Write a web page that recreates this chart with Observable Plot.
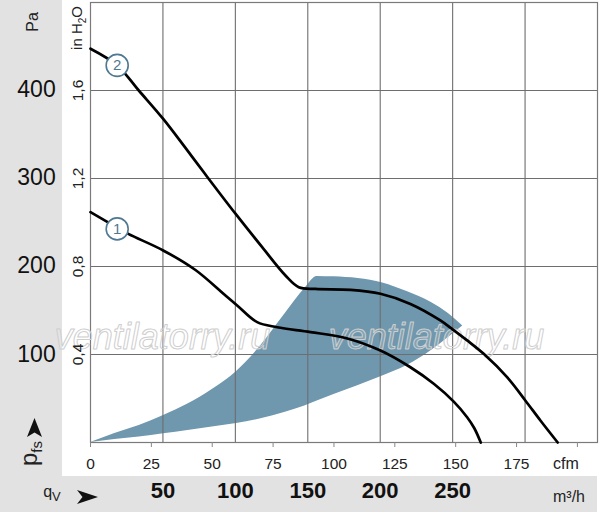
<!DOCTYPE html>
<html>
<head>
<meta charset="utf-8">
<script src="https://cdn.jsdelivr.net/npm/d3@7"></script>
<script src="https://cdn.jsdelivr.net/npm/@observablehq/plot@0.6"></script>
<style>
  html, body { margin: 0; padding: 0; background: white; }
  #wrap { position: relative; width: 600px; height: 516px; overflow: hidden; }
  #bg { position: absolute; left: 0; top: 0; width: 597px; height: 512px; background: #e2e2e2; }
  #plotbg { position: absolute; left: 62px; top: 0; width: 535px; height: 476px; background: white; }
  #chart { position: absolute; left: 0; top: 0; }
</style>
</head>
<body>
<div id="wrap">
  <div id="bg"></div>
  <div id="plotbg"></div>
  <div id="chart"></div>
</div>
<script>
// Conversion factors (as used in the drawing)
const CFM_PER_M3H = 0.595;
const PA_PER_INH2O = 249.09;

// Curve 1 (lower characteristic): flow in cfm, static pressure in inH2O
const curve1Cfm   = [0, 10.97, 15.73, 29.86, 43.12, 55.44, 60.25, 68.46, 76.67, 90.35, 105.5, 119.1, 131.4, 141.0, 149.2, 154.7, 157.6, 160.3];
const curve1InH2O = [1.047, 0.977, 0.947, 0.873, 0.784, 0.668, 0.623, 0.547, 0.524, 0.502, 0.473, 0.418, 0.342, 0.267, 0.186, 0.115, 0.066, 0];

// Curve 2 (upper characteristic)
const curve2Cfm   = [0, 10.97, 19.84, 29.86, 39.01, 47.23, 59.55, 70.51, 80.08, 85.54, 92.4, 106.8, 119.1, 131.4, 143.7, 149.0, 154.7, 161.5, 171.1, 178.6, 184.8, 191.9];
const curve2InH2O = [1.790, 1.714, 1.600, 1.471, 1.339, 1.218, 1.040, 0.888, 0.759, 0.706, 0.698, 0.694, 0.676, 0.630, 0.555, 0.512, 0.464, 0.403, 0.297, 0.191, 0.100, 0];

// Shaded operating range: flow (cfm) with lower and upper boundary (inH2O)
const shadeCfm   = [0, 10, 20, 30, 40, 50, 60, 70, 80, 88, 93.1, 100, 110, 120, 130, 140, 147, 152.9];
const shadeLower = [0, 0.014, 0.025, 0.040, 0.055, 0.070, 0.086, 0.108, 0.138, 0.166, 0.189, 0.218, 0.259, 0.302, 0.350, 0.418, 0.477, 0.529];
const shadeUpper = [0, 0.041, 0.077, 0.123, 0.175, 0.241, 0.323, 0.441, 0.586, 0.700, 0.755, 0.753, 0.745, 0.725, 0.686, 0.636, 0.586, 0.529];

// Curve markers
const markerLabels = ["1", "2"];
const markerCfm    = [10.96, 10.96];
const markerInH2O  = [0.971, 1.714];

// Ticks
const cfmTicks      = [0, 25, 50, 75, 100, 125, 150, 175, 200];
const cfmTickLabels = [0, 25, 50, 75, 100, 125, 150, 175];
const inH2OTicks = [0.4, 0.8, 1.2, 1.6];
const paTicks    = [100, 200, 300, 400];
const m3hGrid    = [50, 100, 150, 200, 250, 300];
const m3hLabels  = [50, 100, 150, 200, 250];

const curve1 = curve1Cfm.map((x, i) => ({x, y: curve1InH2O[i]}));
const curve2 = curve2Cfm.map((x, i) => ({x, y: curve2InH2O[i]}));
const shade  = shadeCfm.map((x, i) => ({x, lo: shadeLower[i], hi: shadeUpper[i]}));
const markers = markerLabels.map((t, i) => ({t, x: markerCfm[i], y: markerInH2O[i]}));

const NARROW = "'Liberation Sans Narrow', 'Arial Narrow', 'Liberation Sans', Arial, sans-serif";
const GRID = "#6e6e6e";
const BLUE = "#6f97ad";
const MARK = "#4f7891";

const chart = Plot.plot({
  width: 600,
  height: 516,
  marginLeft: 90,
  marginRight: 3,
  marginTop: 2,
  marginBottom: 74,
  style: {background: "transparent", fontFamily: NARROW, overflow: "visible"},
  x: {domain: [0, 350 * CFM_PER_M3H], label: null},
  y: {domain: [0, 2.0], label: null, axis: null},
  marks: [
    Plot.areaY(shade, {x: "x", y1: "lo", y2: "hi", fill: BLUE, curve: "monotone-x"}),
    Plot.ruleX(m3hGrid, {x: d => d * CFM_PER_M3H, stroke: GRID, strokeWidth: 1.1}),
    Plot.ruleY(inH2OTicks, {stroke: GRID, strokeWidth: 1.1}),
    Plot.frame({stroke: "#7a7a7a", strokeWidth: 1.2}),
    Plot.text(["ventilatorry.ru"], {frameAnchor: "top-left", dx: 72, dy: 346, textAnchor: "middle", lineAnchor: "bottom",
      fontSize: 36, fontStyle: "italic", fontFamily: "'Liberation Sans', Arial, sans-serif",
      fill: "white", fillOpacity: 0.12, stroke: "#cccccc", strokeWidth: 1}),
    Plot.text(["ventilatorry.ru"], {frameAnchor: "top-left", dx: 346, dy: 346, textAnchor: "middle", lineAnchor: "bottom",
      fontSize: 36, fontStyle: "italic", fontFamily: "'Liberation Sans', Arial, sans-serif",
      fill: "white", fillOpacity: 0.12, stroke: "#cccccc", strokeWidth: 1}),
    Plot.line(curve1, {x: "x", y: "y", stroke: "black", strokeWidth: 2.7, curve: "catmull-rom"}),
    Plot.line(curve2, {x: "x", y: "y", stroke: "black", strokeWidth: 2.7, curve: "catmull-rom"}),
    Plot.dot(markers, {x: "x", y: "y", r: 11, fill: "white", stroke: MARK, strokeWidth: 1.6}),
    Plot.text(markers, {x: "x", y: "y", text: "t", fill: MARK, fontSize: 15, fontFamily: "'Liberation Sans', Arial, sans-serif"}),
    Plot.axisX(cfmTicks, {tickSize: 5, tickPadding: 10, fontSize: 15.5, stroke: "#888", fill: "#222", label: null,
      tickFormat: d => cfmTickLabels.includes(d) ? String(d) : ""}),
    Plot.text(inH2OTicks, {y: d => d, frameAnchor: "left", dx: -12, rotate: -90, textAnchor: "middle",
      text: d => d.toFixed(1).replace(".", ","), fontSize: 15.5, fill: "#222"}),
    Plot.text(paTicks, {y: d => d / PA_PER_INH2O, frameAnchor: "left", dx: -54, textAnchor: "middle",
      text: d => String(d), fontSize: 23, fill: "#111"}),
    Plot.text(m3hLabels, {x: d => d * CFM_PER_M3H, frameAnchor: "bottom", dy: 55,
      text: d => String(d), fontSize: 22, fontWeight: "bold", fill: "#111"})
  ]
});

document.getElementById("chart").appendChild(chart);

// Unit labels with sub-scripts and arrowheads
const svg = d3.select(chart);
const g = svg.append("g").attr("font-family", NARROW).attr("fill", "#222");

g.append("text").attr("transform", "translate(38,22) rotate(-90)")
  .attr("text-anchor", "middle").attr("font-size", 16).text("Pa");

const inh = g.append("text").attr("transform", "translate(82,28) rotate(-90)")
  .attr("text-anchor", "middle").attr("font-size", 15);
inh.append("tspan").text("in H");
inh.append("tspan").attr("font-size", 10).attr("dy", 4).text("2");
inh.append("tspan").attr("dy", -4).text("O");

const pfs = g.append("text").attr("transform", "translate(37,466) rotate(-90)")
  .attr("text-anchor", "start").attr("font-size", 24);
pfs.append("tspan").text("p");
pfs.append("tspan").attr("font-size", 15).attr("dy", 5).text("fs");

// arrowhead pointing up (pressure)
g.append("path").attr("transform", "translate(34.5,427.5)")
  .attr("d", "M-7.5,9.5 L0,-9.5 L7.5,9.5 L0,5 Z").attr("fill", "#111");

const qv = g.append("text").attr("transform", "translate(52,497)").attr("font-size", 16);
qv.append("tspan").text("q");
qv.append("tspan").attr("font-size", 13).attr("dy", 4).text("V");
// arrowhead pointing right (flow)
g.append("path").attr("transform", "translate(87.5,497)")
  .attr("d", "M-10.5,-7 L10.5,0 L-10.5,7 L-5,0 Z").attr("fill", "#111");

g.append("text").attr("x", 566).attr("y", 469).attr("text-anchor", "middle").attr("font-size", 16).text("cfm");
g.append("text").attr("x", 569).attr("y", 502).attr("text-anchor", "middle").attr("font-size", 16).text("m³/h");
</script>
</body>
</html>
